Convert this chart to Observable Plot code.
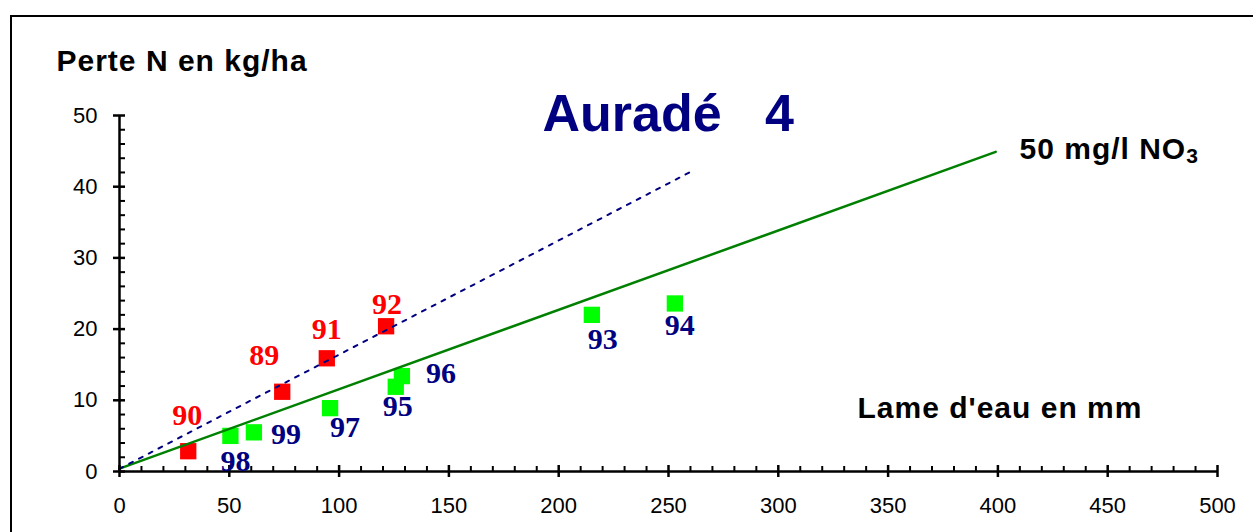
<!DOCTYPE html>
<html>
<head>
<meta charset="utf-8">
<script src="https://cdn.jsdelivr.net/npm/d3@7"></script>
<script src="https://cdn.jsdelivr.net/npm/@observablehq/plot@0.6"></script>
<style>
html, body { margin: 0; padding: 0; background: #fff; overflow: hidden; }
#wrap { position: relative; width: 1253px; height: 532px; overflow: hidden; background: #fff; }
#frame { position: absolute; left: 10px; top: 15px; width: 1400px; height: 700px; border: 2px solid #000; box-sizing: border-box; }
#chart { position: absolute; left: 0; top: 0; }
#chart svg text { white-space: pre; }
</style>
</head>
<body>
<div id="wrap"><div id="frame"></div><div id="chart"></div></div>
<script>
// ---- data ----
const redYears = ["89", "90", "91", "92"];
const redX = [74.1, 31.3, 94.4, 121.4];
const redY = [11.2, 2.85, 15.9, 20.4];

const greenYears = ["93", "94", "95", "96", "97", "98", "99"];
const greenX = [215.1, 252.9, 125.8, 128.6, 95.9, 50.5, 61.2];
const greenY = [22.0, 23.6, 11.9, 13.4, 8.9, 5.0, 5.5];

// 50 mg/l NO3 reference line and dashed trend line (end points)
const normX = [0, 399];
const normY = [0.4, 44.9];
const trendX = [0, 261.4];
const trendY = [0.38, 42.3];

// ticks
const xMajor = [0, 50, 100, 150, 200, 250, 300, 350, 400, 450, 500];
const xMinor = d3.range(0, 501, 10).filter(v => v % 50 !== 0);
const yMajor = [0, 10, 20, 30, 40, 50];
const yMinor = d3.range(0, 51, 2).filter(v => v % 10 !== 0);

// label offsets in px (style only)
const redLabelOffsets = [[-18, -36], [-1, -36], [0, -29], [1, -22]];
const greenLabelOffsets = [[11, 25], [5, 22], [2, 20], [39, -3], [15, 19], [5, 25], [32, 2]];

const sans = "'Liberation Sans', Arial, sans-serif";
const serif = "'Liberation Serif', 'Times New Roman', serif";
const RED = "#FF0000", LIME = "#00FF00", NAVY = "#000080", GREEN = "#008000";

const redIdx = d3.range(redYears.length);
const greenIdx = d3.range(greenYears.length);

const labelMarks = [
  ...redIdx.map(i => Plot.text([i], {
    x: j => redX[j], y: j => redY[j], text: j => redYears[j],
    dx: redLabelOffsets[i][0], dy: redLabelOffsets[i][1],
    fill: RED, fontSize: 30, fontWeight: "bold", fontFamily: serif
  })),
  ...greenIdx.map(i => Plot.text([i], {
    x: j => greenX[j], y: j => greenY[j], text: j => greenYears[j],
    dx: greenLabelOffsets[i][0], dy: greenLabelOffsets[i][1],
    fill: NAVY, fontSize: 30, fontWeight: "bold", fontFamily: serif
  }))
];

const plot = Plot.plot({
  width: 1253,
  height: 532,
  marginLeft: 119,
  marginRight: 36,
  marginTop: 115,
  marginBottom: 61,
  style: { fontFamily: sans, fontSize: "22px", background: "transparent", overflow: "visible", color: "#000" },
  x: { domain: [0, 500], ticks: xMajor, tickSize: 0, tickPadding: 26, label: null },
  y: { domain: [0, 50], ticks: yMajor, tickSize: 0, tickPadding: 22, label: null },
  marks: [
    Plot.dot(redIdx, { x: i => redX[i], y: i => redY[i], symbol: "square", r: 9.2, fill: RED }),
    Plot.dot(greenIdx, { x: i => greenX[i], y: i => greenY[i], symbol: "square", r: 9.2, fill: LIME }),
    Plot.line(d3.range(normX.length), { x: i => normX[i], y: i => normY[i], stroke: GREEN, strokeWidth: 2.5 }),
    Plot.line(d3.range(trendX.length), { x: i => trendX[i], y: i => trendY[i], stroke: NAVY, strokeWidth: 2, strokeDasharray: "4,7" }),
    // axis lines
    Plot.ruleY([0], { stroke: "#000", strokeWidth: 2.5 }),
    Plot.ruleX([0], { stroke: "#000", strokeWidth: 2.5 }),
    // ticks
    Plot.ruleX(xMajor, { x: d => d, y1: 0, y2: 0, insetTop: -6, insetBottom: -6, stroke: "#000", strokeWidth: 2.5 }),
    Plot.ruleX(xMinor, { x: d => d, y1: 0, y2: 0, insetTop: -5, insetBottom: 0, stroke: "#000", strokeWidth: 2 }),
    Plot.ruleY(yMajor, { y: d => d, x1: 0, x2: 0, insetLeft: -6, insetRight: -6, stroke: "#000", strokeWidth: 2.5 }),
    Plot.ruleY(yMinor, { y: d => d, x1: 0, x2: 0, insetLeft: 0, insetRight: -6, stroke: "#000", strokeWidth: 2 }),
    ...labelMarks,
    // titles
    Plot.text(["Perte N en kg/ha"], { text: d => d, frameAnchor: "top-left", textAnchor: "start", lineAnchor: "bottom",
      dx: -63, dy: -45, fontSize: 30, fontWeight: "bold", fill: "#000" }),
    Plot.text(["Auradé   4"], { text: d => d, frameAnchor: "top-left", textAnchor: "start", lineAnchor: "bottom",
      dx: 423, dy: 15, fontSize: 52, fontWeight: "bold", fill: NAVY }),
    Plot.text(["50 mg/l NO3"], { text: d => d, frameAnchor: "top-left", textAnchor: "start", lineAnchor: "bottom",
      dx: 900, dy: 43, fontSize: 30, fontWeight: "bold", fill: "#000" }),
    Plot.text(["Lame d'eau en mm"], { text: d => d, frameAnchor: "top-left", textAnchor: "start", lineAnchor: "bottom",
      dx: 738, dy: 302, fontSize: 30, fontWeight: "bold", fill: "#000" })
  ]
});

// letter spacing for the wide bold labels, subscript in NO3
const wideLabels = ["Perte N en kg/ha", "50 mg/l NO3", "Lame d'eau en mm"];
d3.select(plot).selectAll("text").filter(function () { return wideLabels.includes(this.textContent); })
  .style("letter-spacing", "1px");
d3.select(plot).selectAll("text").filter(function () { return this.textContent === "50 mg/l NO3"; })
  .each(function () {
    const t = d3.select(this);
    t.text("50 mg/l NO");
    t.append("tspan").attr("dy", 4).attr("font-size", 21).text("3");
  });

document.getElementById("chart").appendChild(plot);
</script>
</body>
</html>
